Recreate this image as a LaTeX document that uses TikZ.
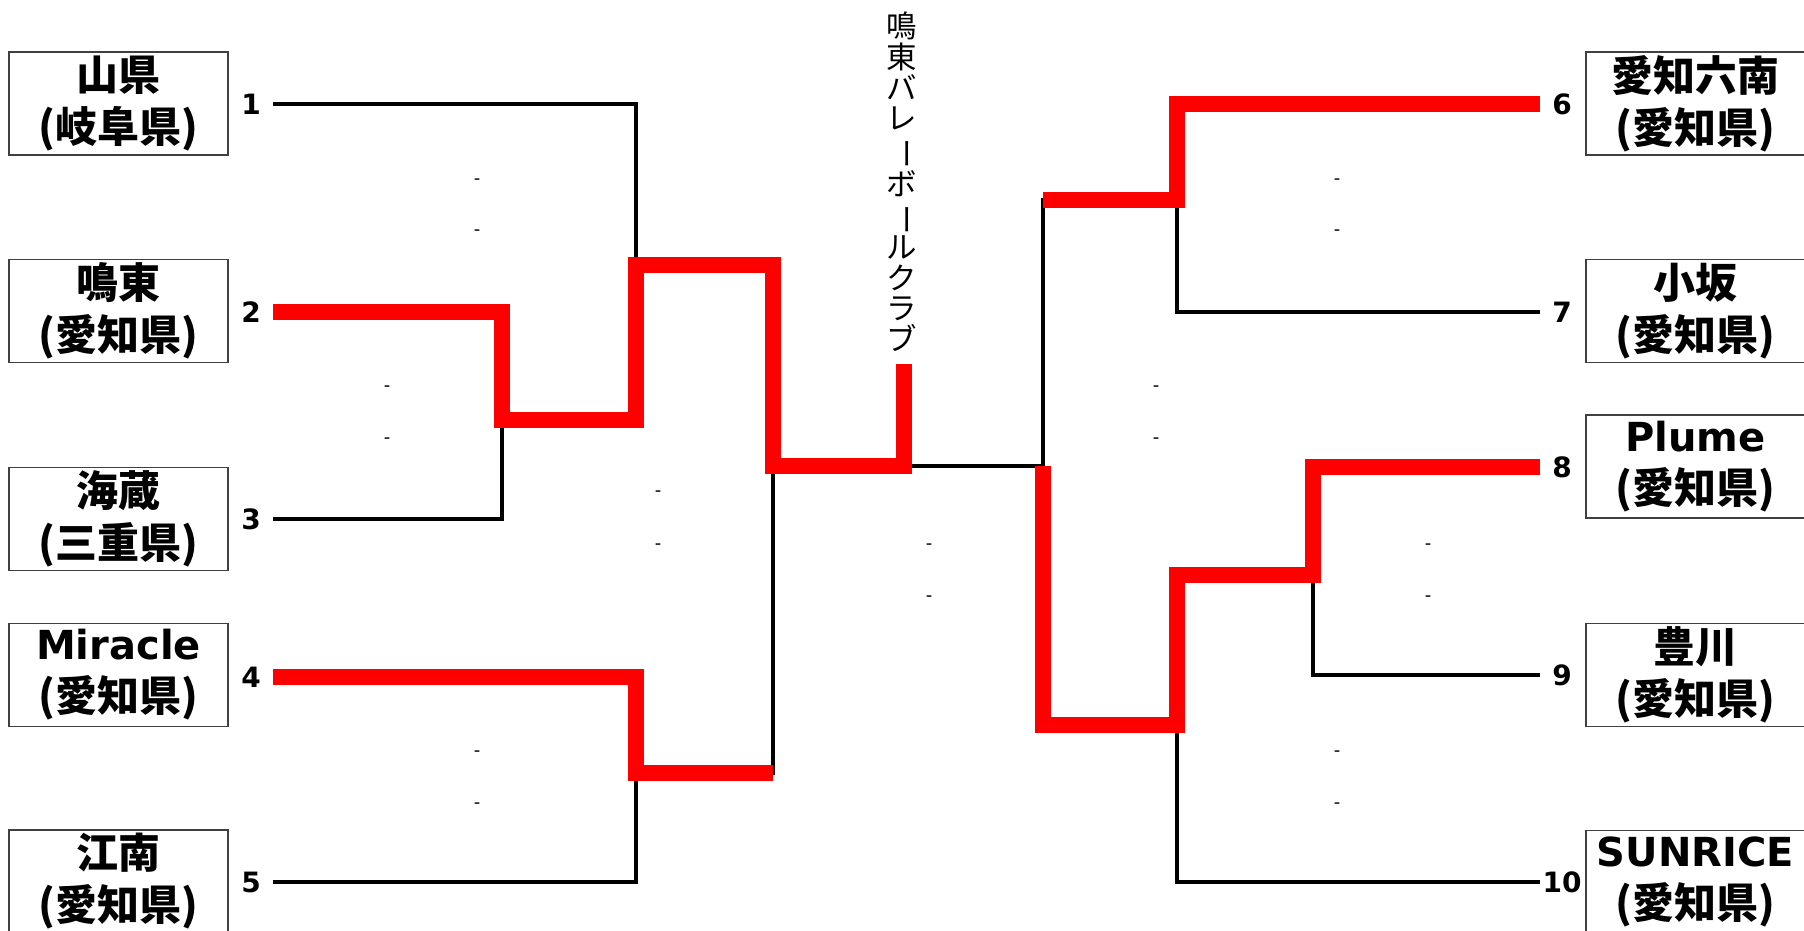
\documentclass[tikz,border=0pt]{standalone}
\usepackage{fontspec}
\setmainfont{DejaVu Sans}
\newfontfamily\jpfont{Noto Sans CJK JP}[Scale=1.05]
\newcommand{\tatebo}{\rotatebox[origin=c]{-90}{ー}}
\begin{document}
\begin{tikzpicture}[
        x=1pt, y=-1pt,
        team/.style={draw=black!75, line width=1.2pt, minimum width=219pt, minimum height=103pt, inner sep=0pt, align=center, font=\bfseries\fontsize{40}{52}\selectfont},
        seed/.style={minimum width=44pt, inner sep=0pt, font=\bfseries\fontsize{28}{28}\selectfont},
        score/.style={inner sep=0pt, font=\fontsize{18}{18}\selectfont},
        champ/.style={anchor=north, inner sep=0pt, align=center, font=\jpfont\fontsize{29}{30.7}\selectfont},
        bline/.style={draw, line width=3.5pt},
        win/.style={draw=red, line width=16pt, line join=miter},
    ]
    \useasboundingbox (0,0) rectangle (1804,931);
    % teams, left
    \node[team](t1) at (118.5,103.5){{\jpfont 山県}\\{\jpfont (岐阜県)}};
    \node[team](t2) at (118.5,311){{\jpfont 鳴東}\\{\jpfont (愛知県)}};
    \node[team](t3) at (118.5,519){{\jpfont 海蔵}\\{\jpfont (三重県)}};
    \node[team](t4) at (118.5,675){Miracle\\{\jpfont (愛知県)}};
    \node[team](t5) at (118.5,881.5){{\jpfont 江南}\\{\jpfont (愛知県)}};
    % teams, right
    \node[team](t6) at (1695.5,103.5){{\jpfont 愛知六南}\\{\jpfont (愛知県)}};
    \node[team](t7) at (1695.5,311){{\jpfont 小坂}\\{\jpfont (愛知県)}};
    \node[team](t8) at (1695.5,466.5){Plume\\{\jpfont (愛知県)}};
    \node[team](t9) at (1695.5,675){{\jpfont 豊川}\\{\jpfont (愛知県)}};
    \node[team](t10) at (1695.5,882){SUNRICE\\{\jpfont (愛知県)}};
    % seeds
    \node[seed](s1) at (251,104){1};
    \node[seed](s2) at (251,312){2};
    \node[seed](s3) at (251,519){3};
    \node[seed](s4) at (251,677){4};
    \node[seed](s5) at (251,882){5};
    \node[seed](s6) at (1562,104){6};
    \node[seed](s7) at (1562,312){7};
    \node[seed](s8) at (1562,467){8};
    \node[seed](s9) at (1562,675){9};
    \node[seed](s10) at (1562,882){10};
    % junctions
    \coordinate (a23) at (502,420);
    \coordinate (a1) at (636,265);
    \coordinate (a45) at (636,773);
    \coordinate (aL) at (773,466);
    \coordinate (aC) at (904,466);
    \coordinate (aT) at (904,364);
    \coordinate (aR) at (1043,466);
    \coordinate (b67) at (1177,200);
    \coordinate (b89) at (1313,575);
    \coordinate (b10) at (1177,725);
    % bracket
    \draw[bline] (s1.east) -| (a1);
    \draw[bline] (s2.east) -| (a23);
    \draw[bline] (s3.east) -| (a23);
    \draw[bline] (a23) -| (a1);
    \draw[bline] (s4.east) -| (a45);
    \draw[bline] (s5.east) -| (a45);
    \draw[bline] (a1) -| (aL);
    \draw[bline] (a45) -| (aL);
    \draw[bline] (aL) -- (aR);
    \draw[bline] (s6.west) -| (b67);
    \draw[bline] (s7.west) -| (b67);
    \draw[bline] (s8.west) -| (b89);
    \draw[bline] (s9.west) -| (b89);
    \draw[bline] (b89) -| (b10);
    \draw[bline] (s10.west) -| (b10);
    \draw[bline] (b67) -| (aR);
    \draw[bline] (b10) -| (aR);
    % winners
    \draw[win] (s2.east) -| (a23) -| (a1) -| (aL) -- (aC) -- (aT);
    \draw[win] (s4.east) -| (a45) -- (aL |- a45);
    \draw[win] (s6.west) -| (b67) -- (aR |- b67);
    \draw[win] (s8.west) -| (b89) -| (b10) -| (aR);
    % champion
    \node[champ](champ) at (902,12){鳴\\東\\バ\\レ\\\tatebo\\ボ\\\tatebo\\ル\\ク\\ラ\\ブ};
    % scores
    \node[score](c1a) at (477,182){-}; \node[score](c1b) at (477,233){-};
    \node[score](c2a) at (387,389){-}; \node[score](c2b) at (387,441){-};
    \node[score](c3a) at (658,494){-}; \node[score](c3b) at (658,547){-};
    \node[score](c4a) at (477,754){-}; \node[score](c4b) at (477,806){-};
    \node[score](c5a) at (929,547){-}; \node[score](c5b) at (929,599){-};
    \node[score](c6a) at (1337,182){-}; \node[score](c6b) at (1337,233){-};
    \node[score](c7a) at (1156,389){-}; \node[score](c7b) at (1156,441){-};
    \node[score](c8a) at (1428,547){-}; \node[score](c8b) at (1428,599){-};
    \node[score](c9a) at (1337,754){-}; \node[score](c9b) at (1337,806){-};
\end{tikzpicture}
\end{document}
